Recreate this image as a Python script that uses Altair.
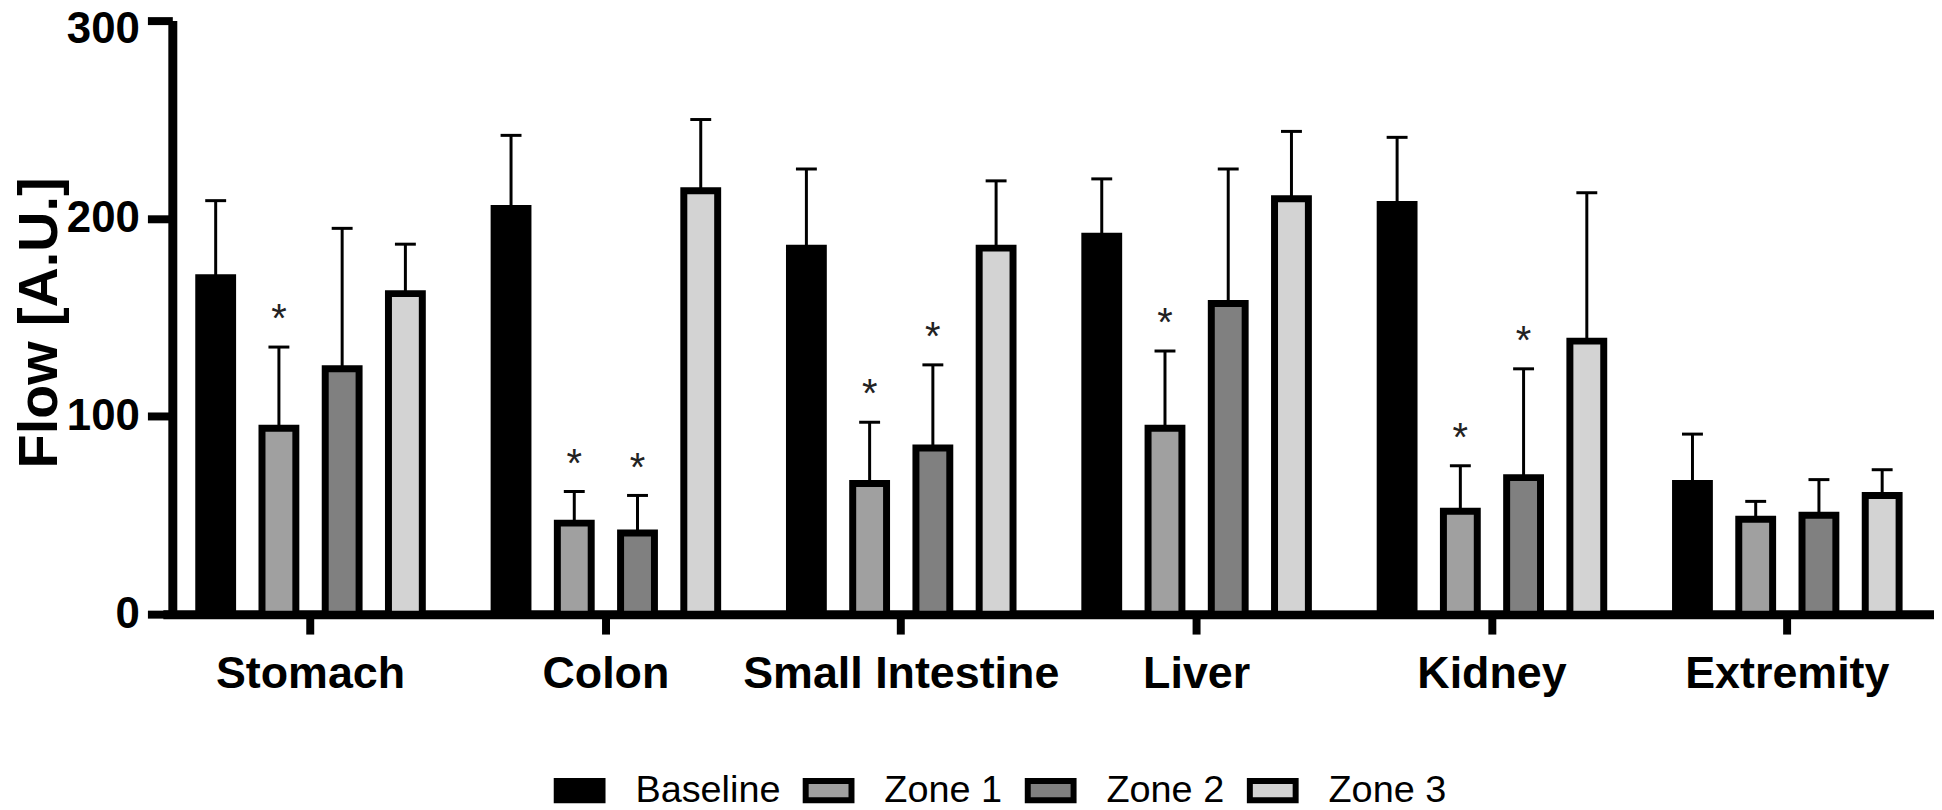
import altair as alt
import pandas as pd

# ---- data ----
organs = ["Stomach", "Colon", "Small Intestine", "Liver", "Kidney", "Extremity"]
groups = ["Baseline", "Zone 1", "Zone 2", "Zone 3"]
colors = ["#000000", "#A0A0A0", "#808080", "#D3D3D3"]

baseline_mean = [170, 205, 185, 191, 207, 66]
baseline_sd = [39, 37, 40, 29, 34, 25]
zone1_mean = [94, 46, 66, 94, 52, 48]
zone1_sd = [41, 16, 31, 39, 23, 9]
zone2_mean = [124, 41, 84, 157, 69, 50]
zone2_sd = [71, 19, 42, 68, 55, 18]
zone3_mean = [162, 214, 185, 210, 138, 60]
zone3_sd = [25, 36, 34, 34, 75, 13]

# significance markers (*) per organ
baseline_star = [0, 0, 0, 0, 0, 0]
zone1_star = [1, 1, 1, 1, 1, 0]
zone2_star = [0, 1, 1, 0, 1, 0]
zone3_star = [0, 0, 0, 0, 0, 0]

y_ticks = [0, 100, 200, 300]

series = [
    ("Baseline", baseline_mean, baseline_sd, baseline_star),
    ("Zone 1", zone1_mean, zone1_sd, zone1_star),
    ("Zone 2", zone2_mean, zone2_sd, zone2_star),
    ("Zone 3", zone3_mean, zone3_sd, zone3_star),
]
rows = []
for g, means, sds, stars in series:
    for i, o in enumerate(organs):
        rows.append({
            "organ": o,
            "group": g,
            "mean": means[i],
            "upper": means[i] + sds[i],
            "star": "*" if stars[i] else "",
        })
df = pd.DataFrame(rows)

FONT = "Liberation Sans"

x_enc = alt.X(
    "organ:N",
    sort=organs,
    scale=alt.Scale(range=[-9.5, 1770], paddingInner=0.1436, paddingOuter=0.0718),
    axis=alt.Axis(
        title=None,
        labelAngle=0,
        labelFont=FONT,
        labelFontSize=45,
        labelFontWeight="bold",
        labelColor="black",
        labelBaseline="alphabetic",
        labelPadding=54,
        labelLimit=0,
        tickSize=20,
        tickWidth=8,
        tickColor="black",
        domainWidth=9,
        domainColor="black",
        grid=False,
    ),
)
xo_enc = alt.XOffset(
    "group:N",
    sort=groups,
    scale=alt.Scale(paddingInner=0.4646, paddingOuter=0.2323),
)
y_scale = alt.Scale(domain=[0, 300], nice=False)
y_enc = alt.Y(
    "mean:Q",
    scale=y_scale,
    axis=alt.Axis(
        values=y_ticks,
        title="Flow [A.U.]",
        titleFont=FONT,
        titleFontSize=56,
        titleFontWeight="bold",
        titleColor="black",
        titleAngle=-90,
        titleAlign="center",
        titleBaseline="middle",
        titleX=-133,
        titleY=303,
        titleLimit=0,
        labelFont=FONT,
        labelFontSize=44,
        labelFontWeight="bold",
        labelColor="black",
        labelPadding=8,
        labelOffset={"condition": {"test": "datum.value == 300", "value": 9}, "value": 0},
        tickSize=25,
        tickWidth=8,
        tickColor="black",
        domainWidth=9,
        domainColor="black",
        grid=False,
    ),
)

base = alt.Chart(df)

bars = base.mark_bar(stroke="black", strokeWidth=7).encode(
    x=x_enc,
    xOffset=xo_enc,
    y=y_enc,
    fill=alt.Fill(
        "group:N",
        sort=groups,
        scale=alt.Scale(domain=groups, range=colors),
        legend=alt.Legend(
            title=None,
            orient="none",
            direction="horizontal",
            legendX=383,
            legendY=747,
            padding=0,
            symbolType="M-1,-0.42H1V0.42H-1Z",
            symbolSize=2116,
            symbolStrokeColor="black",
            symbolStrokeWidth=6,
            symbolOpacity=1,
            labelFont=FONT,
            labelFontSize=38,
            labelColor="black",
            labelLimit=0,
            labelOffset=30,
            columnPadding=13,
        ),
    ),
)

err = base.mark_rule(color="black", strokeWidth=3).encode(
    x=alt.X("organ:N", sort=organs),
    xOffset=alt.XOffset("group:N", sort=groups),
    y=alt.Y("mean:Q", scale=y_scale),
    y2="upper:Q",
)

caps = base.mark_tick(color="black", thickness=3, size=21, opacity=1).encode(
    x=alt.X("organ:N", sort=organs),
    xOffset=alt.XOffset("group:N", sort=groups),
    y=alt.Y("upper:Q", scale=y_scale),
)

stars = base.transform_filter(alt.datum.star == "*").mark_text(
    font=FONT, fontSize=40, color="#222222", baseline="alphabetic", align="center", dy=-15
).encode(
    x=alt.X("organ:N", sort=organs),
    xOffset=alt.XOffset("group:N", sort=groups),
    y=alt.Y("upper:Q", scale=y_scale),
    text="star:N",
)

chart = (
    alt.layer(bars, err, caps, stars)
    .properties(
        width=1765,
        height=596,
        autosize=alt.AutoSizeParams(type="none"),
        padding={"left": 165, "top": 11, "right": 4, "bottom": 195},
        background="white",
    )
    .configure_view(stroke=None)
)

chart.save("out.html", embed_options={"renderer": "svg", "actions": False})
